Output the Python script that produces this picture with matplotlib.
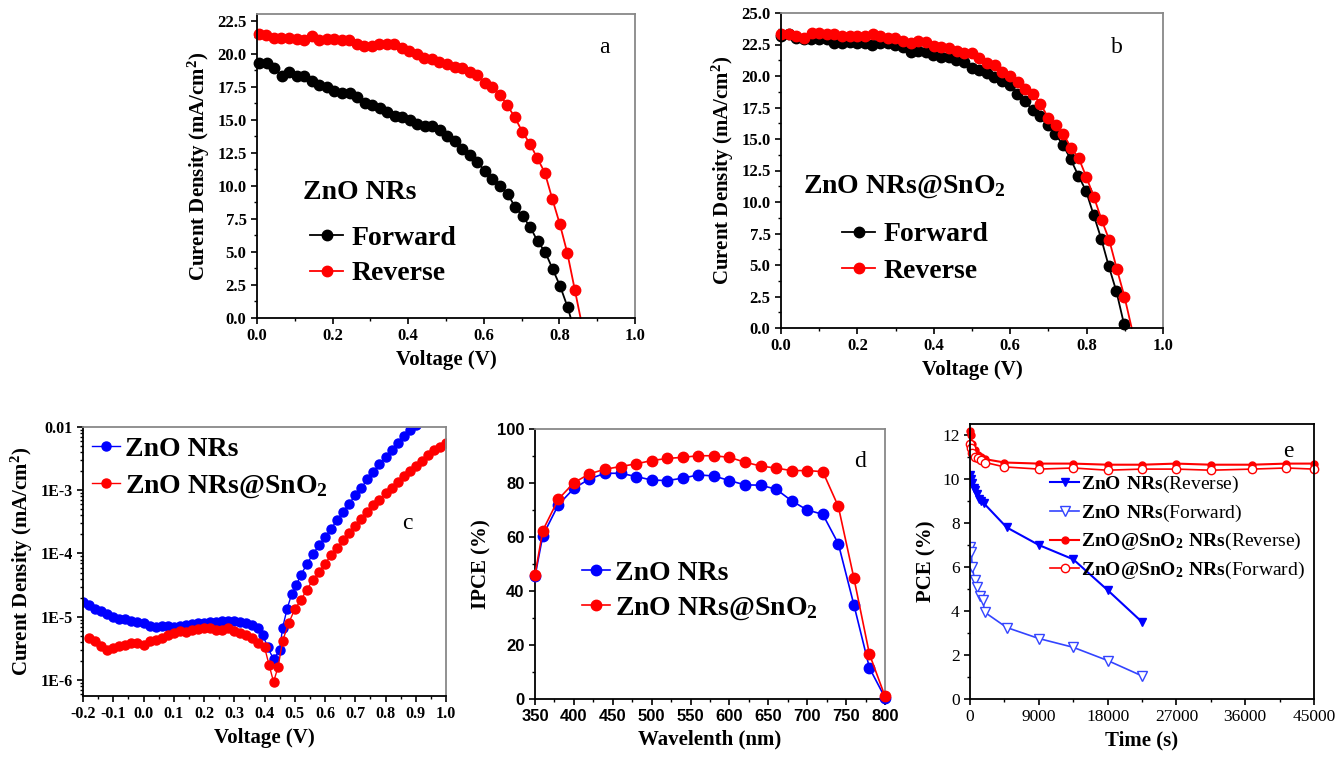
import numpy as np
import matplotlib
matplotlib.use("Agg")
import matplotlib.pyplot as plt
from matplotlib.ticker import MultipleLocator, FixedLocator, FixedFormatter, LogLocator, NullFormatter
from matplotlib.lines import Line2D

plt.rcParams["font.family"] = ["Liberation Serif", "DejaVu Serif"]
plt.rcParams["mathtext.fontset"] = "custom"
plt.rcParams["mathtext.rm"] = "Liberation Serif"
plt.rcParams["mathtext.bf"] = "Liberation Serif:bold"
plt.rcParams["mathtext.default"] = "regular"

# ---- panel a : J-V ZnO NRs ----
v_a_fwd = np.linspace(0.006, 0.822, 42)
j_a_fwd = [19.3, 19.3, 18.9, 18.3, 18.6, 18.3, 18.3, 17.9, 17.6, 17.5, 17.2, 17.0, 17.0, 16.7,
           16.3, 16.1, 15.9, 15.6, 15.3, 15.2, 15.0, 14.7, 14.5, 14.5, 14.2, 13.8, 13.4, 12.8,
           12.3, 11.8, 11.1, 10.5, 10.0, 9.4, 8.4, 7.7, 6.9, 5.8, 5.0, 3.7, 2.4, 0.8]
voc_a_fwd = 0.830
v_a_rev = np.linspace(0.005, 0.841, 43)
j_a_rev = [21.5, 21.4, 21.2, 21.2, 21.2, 21.1, 21.0, 21.3, 21.0, 21.1, 21.1, 21.0, 21.0, 20.7,
           20.6, 20.6, 20.7, 20.7, 20.7, 20.4, 20.2, 20.0, 19.7, 19.6, 19.4, 19.2, 19.0, 18.9,
           18.6, 18.4, 17.8, 17.5, 16.9, 16.1, 15.2, 14.1, 13.2, 12.1, 11.0, 9.0, 7.1, 4.9, 2.1]
voc_a_rev = 0.856

# ---- panel b : J-V ZnO NRs@SnO2 ----
v_b_fwd = np.linspace(0.0, 0.898, 46)
j_b_fwd = [23.2, 23.3, 23.0, 22.9, 22.9, 22.9, 22.9, 22.6, 22.6, 22.7, 22.6, 22.6, 22.5, 22.6,
           22.6, 22.5, 22.3, 21.9, 22.0, 21.9, 21.7, 21.5, 21.5, 21.3, 21.1, 20.6, 20.5, 20.2,
           19.9, 19.6, 19.3, 18.6, 18.0, 17.3, 16.8, 16.1, 15.4, 14.5, 13.4, 12.1, 10.9, 9.0,
           7.1, 4.9, 2.9, 0.3]
voc_b_fwd = 0.904
v_b_rev = np.linspace(0.0, 0.899, 46)
j_b_rev = [23.3, 23.3, 23.2, 23.0, 23.4, 23.4, 23.3, 23.3, 23.2, 23.2, 23.2, 23.2, 23.3, 23.2,
           23.0, 23.0, 22.8, 22.6, 22.8, 22.7, 22.4, 22.3, 22.2, 22.0, 21.8, 21.8, 21.4, 21.0,
           20.9, 20.3, 20.0, 19.5, 19.0, 18.6, 17.8, 16.7, 16.1, 15.4, 14.3, 13.5, 12.0, 10.4,
           8.6, 7.0, 4.7, 2.5]
voc_b_rev = 0.918

# ---- panel c : dark current (log10 of mA/cm2) ----
v_c_zno = np.round(np.concatenate([np.arange(-0.20, 0.381, 0.02),
                                   [0.395, 0.41, 0.43, 0.45, 0.46, 0.475, 0.49, 0.505, 0.52],
                                   np.arange(0.54, 0.901, 0.02)]), 3)
logj_c_zno = [-4.76, -4.82, -4.87, -4.91, -4.95, -5.00, -5.04, -5.04, -5.06, -5.08,
              -5.10, -5.15, -5.16, -5.15, -5.15, -5.16, -5.15, -5.13, -5.12, -5.10,
              -5.10, -5.09, -5.08, -5.06, -5.06, -5.06, -5.09, -5.10, -5.13, -5.18,
              -5.29, -5.48, -5.67, -5.53, -5.17, -4.87, -4.64, -4.50, -4.34,
              -4.17, -4.01, -3.87, -3.74, -3.61, -3.47, -3.34, -3.21, -3.08, -2.96,
              -2.83, -2.71, -2.59, -2.47, -2.36, -2.25, -2.15, -2.05, -1.97]
v_c_sno = np.round(np.concatenate([np.arange(-0.18, 0.401, 0.02),
                                   [0.415, 0.43, 0.445, 0.46, 0.48, 0.50, 0.52],
                                   np.arange(0.54, 1.001, 0.02)]), 3)
logj_c_sno = [-5.34, -5.39, -5.46, -5.52, -5.50, -5.47, -5.45, -5.42, -5.42, -5.44,
              -5.39, -5.36, -5.33, -5.29, -5.25, -5.23, -5.24, -5.21, -5.20, -5.18,
              -5.18, -5.21, -5.21, -5.18, -5.22, -5.25, -5.29, -5.34, -5.42, -5.48,
              -5.76, -6.03, -5.79, -5.38, -5.10, -4.88, -4.74,
              -4.57, -4.42, -4.29, -4.16, -4.03, -3.91, -3.79, -3.67, -3.56, -3.45,
              -3.35, -3.24, -3.15, -3.05, -2.96, -2.87, -2.78, -2.69, -2.61, -2.53,
              -2.45, -2.37, -2.31, -2.25]
j_c_zno = 10.0 ** np.array(logj_c_zno)
j_c_sno = 10.0 ** np.array(logj_c_sno)

# ---- panel d : IPCE ----
wl = [350, 360, 380, 400, 420, 440, 460, 480, 500, 520, 540, 560, 580, 600, 620, 640,
      660, 680, 700, 720, 740, 760, 780, 800]
ipce_zno = [45.4, 60.5, 71.9, 78.0, 81.5, 83.6, 83.6, 82.4, 81.1, 80.9, 81.8, 83.0, 82.6,
            80.9, 79.3, 79.2, 77.7, 73.4, 70.0, 68.4, 57.5, 34.9, 11.5, 0.5]
ipce_sno = [46.0, 62.4, 74.0, 80.1, 83.4, 85.1, 86.1, 87.1, 88.3, 89.1, 89.5, 90.1, 90.1,
            89.5, 87.7, 86.3, 85.5, 84.6, 84.6, 84.2, 71.3, 44.8, 16.6, 1.0]

# ---- panel e : PCE stability ----
t_zno_rev = [0, 150, 300, 500, 700, 900, 1200, 1500, 1800, 4800, 9000, 13500, 18000, 22500]
pce_zno_rev = [10.2, 10.0, 9.8, 9.6, 9.5, 9.3, 9.1, 9.0, 8.9, 7.8, 7.0, 6.35, 4.95, 3.5]
t_zno_fwd = [0, 150, 300, 600, 900, 1300, 1700, 1900, 4800, 9000, 13500, 18000, 22500]
pce_zno_fwd = [6.9, 6.7, 6.0, 5.4, 5.1, 4.7, 4.5, 3.95, 3.25, 2.75, 2.35, 1.75, 1.05]
t_sno = [0, 100, 300, 600, 1000, 1500, 2000, 4500, 9000, 13500, 18000, 22500, 27000,
         31500, 36900, 41400, 45000]
pce_sno_rev = [12.2, 12.0, 11.6, 11.3, 11.1, 11.0, 10.9, 10.75, 10.7, 10.7, 10.65, 10.65,
               10.7, 10.65, 10.65, 10.7, 10.7]
pce_sno_fwd = [11.6, 11.4, 11.2, 11.0, 10.95, 10.85, 10.75, 10.55, 10.45, 10.5, 10.4, 10.45,
               10.45, 10.4, 10.45, 10.5, 10.45]

W, H = 1344, 757
fig = plt.figure(figsize=(W / 100, H / 100), dpi=100)


def make_ax(l, t, r, b):
    return fig.add_axes([l / W, 1 - b / H, (r - l) / W, (b - t) / H])


def style(ax, size=12, weight="bold", family=None):
    for s in ["left", "bottom"]:
        ax.spines[s].set_linewidth(1.3)
    for s in ["top", "right"]:
        ax.spines[s].set_color("#888888")
        ax.spines[s].set_linewidth(1.3)
    ax.tick_params(which="major", direction="out", length=4, width=1.2, labelsize=size)
    ax.tick_params(which="minor", direction="out", length=2.5, width=1.0)
    for lab in ax.get_xticklabels() + ax.get_yticklabels():
        lab.set_fontweight(weight)
        if family:
            lab.set_family(family)


RED = "#ff0000"
BLUE = "#0000ff"
lab_kw = dict(fontsize=15, fontweight="bold")

# ---------- a ----------
ax = make_ax(257, 14, 635, 318)
ax.plot(list(v_a_fwd) + [voc_a_fwd], j_a_fwd + [0.0], "-o", color="black", ms=7.5, lw=1.3,
        markevery=slice(0, len(j_a_fwd)), clip_on=False)
ax.plot(list(v_a_rev) + [voc_a_rev], j_a_rev + [0.0], "-o", color=RED, ms=7.5, lw=1.3,
        markevery=slice(0, len(j_a_rev)), clip_on=False)
ax.set_xlim(0, 1.0)
ax.set_ylim(0, 23)
ax.xaxis.set_major_locator(MultipleLocator(0.2))
ax.xaxis.set_minor_locator(MultipleLocator(0.1))
ax.yaxis.set_major_locator(FixedLocator(np.arange(0, 22.6, 2.5)))
ax.yaxis.set_minor_locator(MultipleLocator(1.25))
ax.xaxis.set_major_formatter(plt.FormatStrFormatter("%.1f"))
ax.yaxis.set_major_formatter(plt.FormatStrFormatter("%.1f"))
style(ax)
ax.set_xlabel("Voltage (V)", **lab_kw)
ax.set_ylabel("Curent Density (mA/cm$^2$)", **lab_kw)
ax.text(0.92, 0.89, "a", transform=ax.transAxes, fontsize=17, ha="center", va="center")
ax.text(0.122, 0.414, "ZnO NRs", transform=ax.transAxes, fontsize=20, fontweight="bold",
        va="center")
hs = [Line2D([], [], color="black", marker="o", ms=7.5, lw=1.3),
      Line2D([], [], color=RED, marker="o", ms=7.5, lw=1.3)]
ax.legend(hs, ["Forward", "Reverse"], loc="center left", bbox_to_anchor=(0.14, 0.204),
          frameon=False, prop=dict(size=20, weight="bold"), handlelength=1.2,
          handletextpad=0.3, labelspacing=0.35, borderpad=0, borderaxespad=0)

# ---------- b ----------
ax = make_ax(781, 13, 1163, 328)
ax.plot(list(v_b_fwd) + [voc_b_fwd], j_b_fwd + [0.0], "-o", color="black", ms=7.5, lw=1.3,
        markevery=slice(0, len(j_b_fwd)), clip_on=False)
ax.plot(list(v_b_rev) + [voc_b_rev], j_b_rev + [0.0], "-o", color=RED, ms=7.5, lw=1.3,
        markevery=slice(0, len(j_b_rev)), clip_on=False)
ax.set_xlim(0, 1.0)
ax.set_ylim(0, 25)
ax.xaxis.set_major_locator(MultipleLocator(0.2))
ax.xaxis.set_minor_locator(MultipleLocator(0.1))
ax.yaxis.set_major_locator(MultipleLocator(2.5))
ax.yaxis.set_minor_locator(MultipleLocator(1.25))
ax.xaxis.set_major_formatter(plt.FormatStrFormatter("%.1f"))
ax.yaxis.set_major_formatter(plt.FormatStrFormatter("%.1f"))
style(ax)
ax.set_xlabel("Voltage (V)", **lab_kw)
ax.set_ylabel("Curent Density (mA/cm$^2$)", **lab_kw)
ax.text(0.88, 0.89, "b", transform=ax.transAxes, fontsize=17, ha="center", va="center")
ax.text(0.058, 0.448, "ZnO NRs@SnO$_2$", transform=ax.transAxes, fontsize=20,
        fontweight="bold", va="center")
hs = [Line2D([], [], color="black", marker="o", ms=7.5, lw=1.3),
      Line2D([], [], color=RED, marker="o", ms=7.5, lw=1.3)]
ax.legend(hs, ["Forward", "Reverse"], loc="center left", bbox_to_anchor=(0.16, 0.238),
          frameon=False, prop=dict(size=20, weight="bold"), handlelength=1.2,
          handletextpad=0.3, labelspacing=0.4, borderpad=0, borderaxespad=0)

# ---------- c ----------
ax = make_ax(83, 427, 446, 696)
ax.semilogy(v_c_zno, j_c_zno, "-o", color=BLUE, ms=6.5, lw=1.0, label="ZnO NRs")
ax.semilogy(v_c_sno, j_c_sno, "-o", color=RED, ms=6.5, lw=1.0, label="ZnO NRs@SnO$_2$")
ax.set_xlim(-0.2, 1.0)
ax.set_ylim(10 ** -6.253, 1e-2)
ax.xaxis.set_major_locator(MultipleLocator(0.1))
ax.xaxis.set_minor_locator(MultipleLocator(0.05))
ax.xaxis.set_major_formatter(plt.FormatStrFormatter("%.1f"))
ax.yaxis.set_major_locator(FixedLocator([1e-6, 1e-5, 1e-4, 1e-3, 1e-2]))
ax.yaxis.set_major_formatter(FixedFormatter(["1E-6", "1E-5", "1E-4", "1E-3", "0.01"]))
ax.yaxis.set_minor_locator(LogLocator(base=10, subs=np.arange(2, 10)))
ax.yaxis.set_minor_formatter(NullFormatter())
style(ax, size=11.5)
ax.set_xlabel("Voltage (V)", **lab_kw)
ax.set_ylabel("Curent Density (mA/cm$^2$)", **lab_kw)
ax.text(0.894, 0.64, "c", transform=ax.transAxes, fontsize=17, ha="center", va="center")
ax.legend(loc="center left", bbox_to_anchor=(0.025, 0.848), frameon=False,
          prop=dict(size=20, weight="bold"), handlelength=1.0, handletextpad=0.2,
          labelspacing=0.4, borderpad=0, borderaxespad=0)

# ---------- d ----------
ax = make_ax(535, 429, 885, 699)
ax.plot(wl, ipce_zno, "-o", color=BLUE, ms=7.5, lw=1.2, label="ZnO NRs", clip_on=False,
        zorder=3)
ax.plot(wl, ipce_sno, "-o", color=RED, ms=7.5, lw=1.2, label="ZnO NRs@SnO$_2$", clip_on=False,
        zorder=3)
ax.set_xlim(350, 800)
ax.set_ylim(0, 100)
ax.xaxis.set_major_locator(MultipleLocator(50))
ax.xaxis.set_minor_locator(MultipleLocator(25))
ax.yaxis.set_major_locator(MultipleLocator(20))
ax.yaxis.set_minor_locator(MultipleLocator(10))
style(ax, size=12, family="Liberation Sans")
ax.set_xlabel("Wavelenth (nm)", **lab_kw)
ax.set_ylabel("IPCE (%)", **lab_kw)
ax.text(0.93, 0.88, "d", transform=ax.transAxes, fontsize=17, ha="center", va="center")
ax.legend(loc="center left", bbox_to_anchor=(0.134, 0.40), frameon=False,
          prop=dict(size=20, weight="bold"), handlelength=1.0, handletextpad=0.2,
          labelspacing=0.33, borderpad=0, borderaxespad=0)

# ---------- e ----------
ax = make_ax(970, 424, 1314, 699)
ax.plot(t_zno_rev, pce_zno_rev, "-v", color=BLUE, ms=6, lw=1.5,
        label=r"$\mathbf{ZnO\ NRs}$(Reverse)")
ax.plot(t_zno_fwd, pce_zno_fwd, "-v", color="#3344ff", mfc="white", ms=6.5, lw=1.2,
        label=r"$\mathbf{ZnO\ NRs}$(Forward)")
ax.plot(t_sno, pce_sno_rev, "-o", color=RED, ms=5, lw=1.5,
        label=r"$\mathbf{ZnO@SnO_2\ NRs}$(Reverse)", clip_on=False)
ax.plot(t_sno, pce_sno_fwd, "-o", color=RED, mfc="white", ms=6, lw=1.2,
        label=r"$\mathbf{ZnO@SnO_2\ NRs}$(Forward)", clip_on=False)
ax.set_xlim(0, 45000)
ax.set_ylim(0, 12.5)
ax.xaxis.set_major_locator(MultipleLocator(9000))
ax.xaxis.set_minor_locator(MultipleLocator(4500))
ax.yaxis.set_major_locator(MultipleLocator(2))
ax.yaxis.set_minor_locator(MultipleLocator(1))
style(ax, size=12.5, weight="normal")
for s in ["top", "right"]:
    ax.spines[s].set_color("black")
ax.set_xlabel("Time (s)", **lab_kw)
ax.set_ylabel("PCE (%)", **lab_kw)
ax.text(0.925, 0.9, "e", transform=ax.transAxes, fontsize=17, ha="center", va="center")
ax.legend(loc="center left", bbox_to_anchor=(0.233, 0.624), frameon=False,
          prop=dict(size=14), handlelength=1.5, handletextpad=0.1, labelspacing=0.4,
          borderpad=0, borderaxespad=0)

fig.savefig("out.png", dpi=100)
